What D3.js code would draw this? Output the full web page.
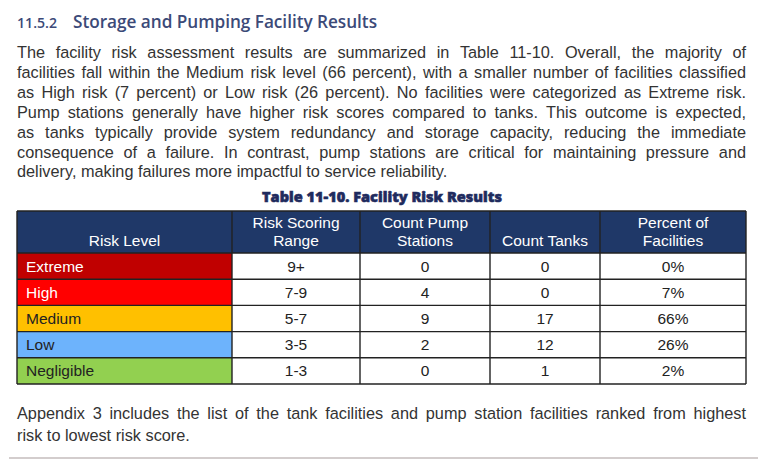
<!DOCTYPE html>
<html>
<head>
<meta charset="utf-8">
<script src="https://cdn.jsdelivr.net/npm/d3@7"></script>
<style>
  body { margin: 0; background: #fff; }
  svg { display: block; }
</style>
</head>
<body>
<div id="page"></div>
<script>
const headingNum = "11.5.2";
const headingText = "Storage and Pumping Facility Results";
const introLines = [
  "The facility risk assessment results are summarized in Table 11-10. Overall, the majority of",
  "facilities fall within the Medium risk level (66 percent), with a smaller number of facilities classified",
  "as High risk (7 percent) or Low risk (26 percent). No facilities were categorized as Extreme risk.",
  "Pump stations generally have higher risk scores compared to tanks. This outcome is expected,",
  "as tanks typically provide system redundancy and storage capacity, reducing the immediate",
  "consequence of a failure. In contrast, pump stations are critical for maintaining pressure and",
  "delivery, making failures more impactful to service reliability."
];
const tableTitle = "Table 11-10. Facility Risk Results";
const headers = [["Risk Level"], ["Risk Scoring", "Range"], ["Count Pump", "Stations"], ["Count Tanks"], ["Percent of", "Facilities"]];
const riskLevels = ["Extreme", "High", "Medium", "Low", "Negligible"];
const scoreRanges = ["9+", "7-9", "5-7", "3-5", "1-3"];
const pumpCounts = [0, 4, 9, 2, 0];
const tankCounts = [0, 0, 17, 12, 1];
const percents = [0, 7, 66, 26, 2];
const outroLines = [
  "Appendix 3 includes the list of the tank facilities and pump station facilities ranked from highest",
  "risk to lowest risk score."
];

const width = 768, height = 474;
const left = 17, right = 746;
const colEdges = [17, 232, 360, 490, 600, 746];
const levelColor = d3.scaleOrdinal()
  .domain(riskLevels)
  .range(["#c00000", "#ff0000", "#ffc000", "#6db3fc", "#92d050"]);
const levelText = d3.scaleOrdinal()
  .domain(riskLevels)
  .range(["#fff", "#fff", "#222", "#222", "#222"]);

const svg = d3.select("#page").append("svg")
  .attr("width", width)
  .attr("height", height);

// heading
const head = svg.append("text")
  .attr("y", 28)
  .attr("font-family", "Open Sans, sans-serif")
  .attr("font-weight", 600)
  .attr("font-size", 17.2)
  .attr("fill", "#3c4a78");
head.append("tspan").attr("x", left).attr("font-size", 15)
  .attr("textLength", 40).attr("lengthAdjust", "spacingAndGlyphs").text(headingNum);
head.append("tspan").attr("x", 73).attr("textLength", 304).text(headingText);

// justified paragraph, one line at a time
const bodyFont = "Liberation Sans, Arial, sans-serif";
const bodySize = 16.3;
function paragraph(lines, y0, lineH) {
  const g = svg.append("g")
    .attr("font-family", bodyFont)
    .attr("font-size", bodySize)
    .attr("fill", "#333");
  lines.forEach((line, i) => {
    const words = line.split(" ");
    const t = g.append("text").attr("y", y0 + i * lineH);
    const spans = words.map(w => t.append("tspan").text(w));
    const widths = spans.map(s => s.node().getComputedTextLength());
    const last = i === lines.length - 1;
    const total = d3.sum(widths);
    const space = last ? bodySize * 0.278 : (right - left - total) / (words.length - 1);
    let x = left;
    spans.forEach((s, j) => {
      s.attr("x", x);
      x += widths[j] + space;
    });
  });
}
paragraph(introLines, 58, 19.9);

// table title
svg.append("text")
  .attr("x", 382)
  .attr("y", 202)
  .attr("text-anchor", "middle")
  .attr("font-family", "Open Sans, sans-serif")
  .attr("font-weight", 800)
  .attr("font-size", 14.5)
  .attr("fill", "#1f2b5e")
  .attr("stroke", "#1f2b5e")
  .attr("stroke-width", 0.6)
  .attr("textLength", 240)
  .attr("lengthAdjust", "spacingAndGlyphs")
  .text(tableTitle);

// table
const headTop = 211, headBottom = 253, tableBottom = 384;
const y = d3.scaleBand().domain(riskLevels).range([headBottom, tableBottom]);
const cols = d3.range(5);
const table = svg.append("g").attr("font-family", bodyFont).attr("font-size", 15.5);

table.selectAll("rect.head")
  .data(cols)
  .join("rect")
  .attr("x", i => colEdges[i])
  .attr("y", headTop)
  .attr("width", i => colEdges[i + 1] - colEdges[i])
  .attr("height", headBottom - headTop)
  .attr("fill", "#1f3868");

table.selectAll("text.head")
  .data(cols)
  .join("text")
  .attr("text-anchor", "middle")
  .attr("fill", "#fff")
  .each(function (i) {
    const lines = headers[i];
    const t = d3.select(this);
    lines.forEach((l, k) => {
      t.append("tspan")
        .attr("x", (colEdges[i] + colEdges[i + 1]) / 2)
        .attr("y", 246 - (lines.length - 1 - k) * 18.5)
        .text(l);
    });
  });

const rows = table.selectAll("g.row")
  .data(riskLevels)
  .join("g")
  .attr("transform", d => `translate(0,${y(d)})`);

rows.append("rect")
  .attr("x", colEdges[0])
  .attr("width", colEdges[1] - colEdges[0])
  .attr("height", y.bandwidth())
  .attr("fill", d => levelColor(d));
rows.append("rect")
  .attr("x", colEdges[1])
  .attr("width", colEdges[5] - colEdges[1])
  .attr("height", y.bandwidth())
  .attr("fill", "#fff");
rows.append("text")
  .attr("x", colEdges[0] + 9)
  .attr("y", y.bandwidth() / 2 + 5.5)
  .attr("fill", d => levelText(d))
  .text(d => d);

const cellVals = [scoreRanges, pumpCounts, tankCounts, percents.map(p => p + "%")];
rows.each(function (d, r) {
  d3.select(this).selectAll("text.val")
    .data(cellVals)
    .join("text")
    .attr("x", (v, c) => (colEdges[c + 1] + colEdges[c + 2]) / 2)
    .attr("y", y.bandwidth() / 2 + 5.5)
    .attr("text-anchor", "middle")
    .attr("fill", "#222")
    .text(v => v[r]);
});

// grid lines
const grid = svg.append("g").attr("stroke", "#222").attr("stroke-width", 1.4);
grid.selectAll("line.h")
  .data([headTop, headBottom, ...riskLevels.map(d => y(d) + y.bandwidth())])
  .join("line")
  .attr("x1", left).attr("x2", right)
  .attr("y1", d => d).attr("y2", d => d);
grid.selectAll("line.v")
  .data(colEdges)
  .join("line")
  .attr("x1", d => d).attr("x2", d => d)
  .attr("y1", headTop).attr("y2", tableBottom);

paragraph(outroLines, 419, 21.5);

svg.append("line")
  .attr("x1", 9).attr("x2", 758)
  .attr("y1", 458).attr("y2", 458)
  .attr("stroke", "#a89c9c")
  .attr("stroke-width", 1.2);
</script>
</body>
</html>
